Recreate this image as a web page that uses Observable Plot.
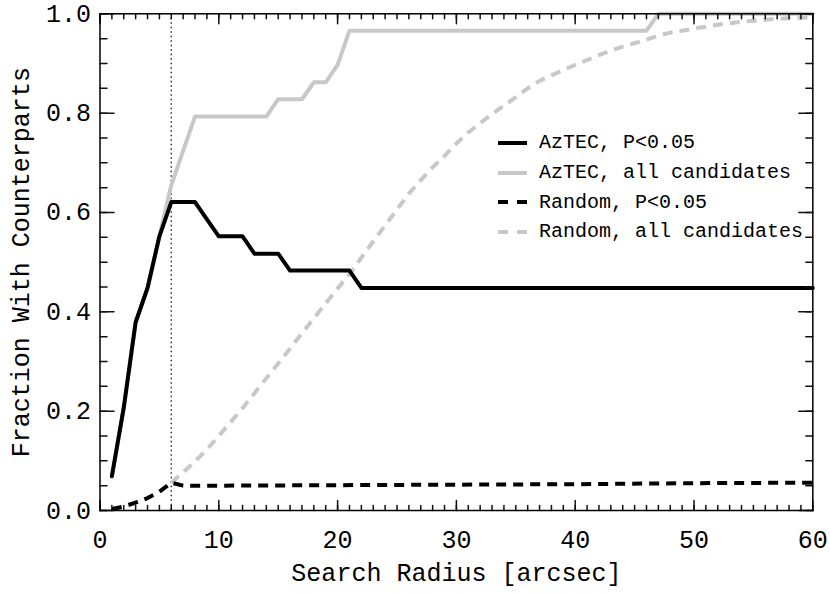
<!DOCTYPE html>
<html>
<head>
<meta charset="utf-8">
<script src="https://cdn.jsdelivr.net/npm/d3@7"></script>
<script src="https://cdn.jsdelivr.net/npm/@observablehq/plot@0.6"></script>
<style>
  html, body { margin: 0; padding: 0; background: white; }
  #wrap { position: relative; width: 830px; height: 593px; }
  #legend { position: absolute; left: 497px; top: 128px; font-family: "Liberation Mono", monospace; font-size: 20px; color: black; }
  #legend .row { display: flex; align-items: center; height: 29.7px; }
  #legend svg { margin-right: 11px; }
</style>
</head>
<body>
<div id="wrap"><div id="legend"></div></div>
<script>
// ---- data ----
const aztecSigX = [1,2,3,4,5,6,7,8,9,10,11,12,13,14,15,16,17,18,19,20,21,22,30,40,50,60];
const aztecSigY = [0.069,0.207,0.379,0.448,0.552,0.621,0.621,0.621,0.586,0.552,0.552,0.552,0.517,0.517,0.517,0.483,0.483,0.483,0.483,0.483,0.483,0.448,0.448,0.448,0.448,0.448];

const aztecAllX = [1,2,3,4,5,6,7,8,9,10,11,12,13,14,15,16,17,18,19,20,21,30,40,46,47,50,60];
const aztecAllY = [0.069,0.207,0.379,0.448,0.552,0.655,0.724,0.793,0.793,0.793,0.793,0.793,0.793,0.793,0.828,0.828,0.828,0.862,0.862,0.897,0.966,0.966,0.966,0.966,1.0,1.0,1.0];

const randSigX = [1,2,3,4,5,6,7,10,20,30,40,50,60];
const randSigY = [0.003,0.008,0.016,0.025,0.038,0.056,0.050,0.050,0.051,0.052,0.053,0.055,0.056];

const randAllX = [6,7,8,9,10,11,12,13,14,15,16,17,18,19,20,21,22,23,24,25,26,27,28,29,30,31,32,33,34,35,36,37,38,39,40,41,42,43,44,45,46,47,48,49,50,51,52,53,54,55,56,57,58,59,60];
const randAllY = [0.056,0.077,0.099,0.123,0.150,0.178,0.206,0.236,0.266,0.296,0.326,0.357,0.387,0.417,0.447,0.476,0.509,0.542,0.574,0.606,0.638,0.665,0.691,0.714,0.739,0.761,0.780,0.798,0.815,0.832,0.850,0.865,0.876,0.887,0.897,0.907,0.917,0.926,0.934,0.941,0.948,0.956,0.962,0.966,0.970,0.974,0.978,0.981,0.984,0.986,0.988,0.990,0.991,0.992,0.993];

const cutRadius = [6];
const xTicks = [0,10,20,30,40,50,60];
const yTicks = [0,0.2,0.4,0.6,0.8,1.0];
const seriesNames = ["AzTEC, P<0.05","AzTEC, all candidates","Random, P<0.05","Random, all candidates"];

// ---- layout ----
const width = 830, height = 593;
const mL = 99.5, mR = 17.7, mT = 13.3, mB = 83;
const xMax = 60, yMax = 1;
const xMinor = d3.range(0, 61, 1);
const yMinor = d3.range(0, 21, 1).map(i => i * 0.05);
const gray = "#c8c8c8";
const lw = 4;
const dash = "10,7";
const tickColor = "#111111";

const pts = (xs, ys) => xs.map((x, i) => ({x, y: ys[i]}));

// inward ticks drawn as vectors with a plain-line shape (length in pixels)
const tickShape = {draw(context, l) { context.moveTo(0, 0); context.lineTo(0, -l); }};
const vtick = (ticks, axis, at, rot, len) => Plot.vector(ticks, {
  x: axis === "x" ? (d => d) : () => at,
  y: axis === "x" ? () => at : (d => d),
  length: len, rotate: rot, anchor: "start", shape: tickShape,
  stroke: tickColor, strokeWidth: 1.5
});

const chart = Plot.plot({
  width, height,
  marginLeft: mL, marginRight: mR, marginTop: mT, marginBottom: mB,
  style: {fontFamily: "Liberation Mono, monospace", fontSize: "25px", background: "white", color: "black"},
  x: {domain: [0, xMax]},
  y: {domain: [0, yMax]},
  marks: [
    Plot.ruleX(cutRadius, {stroke: "#333", strokeWidth: 1.5, strokeDasharray: "1.5,3"}),
    Plot.line(pts(randAllX, randAllY), {x: "x", y: "y", stroke: gray, strokeWidth: lw, strokeDasharray: dash, strokeLinecap: "butt"}),
    Plot.line(pts(randSigX, randSigY), {x: "x", y: "y", stroke: "black", strokeWidth: lw, strokeDasharray: dash, strokeLinecap: "butt"}),
    Plot.line(pts(aztecAllX, aztecAllY), {x: "x", y: "y", stroke: gray, strokeWidth: lw}),
    Plot.line(pts(aztecSigX, aztecSigY), {x: "x", y: "y", stroke: "black", strokeWidth: lw}),
    // ticks on all four sides, pointing inward
    vtick(xMinor, "x", 0, 0, 5),
    vtick(xMinor, "x", yMax, 180, 5),
    vtick(xTicks, "x", 0, 0, 10),
    vtick(xTicks, "x", yMax, 180, 10),
    vtick(yMinor, "y", 0, 90, 7),
    vtick(yMinor, "y", xMax, -90, 7),
    vtick(yTicks, "y", 0, 90, 14),
    vtick(yTicks, "y", xMax, -90, 14),
    Plot.axisX({ticks: xTicks, tickSize: 0, tickPadding: 20, tickFormat: d3.format("d"), fontSize: 25,
      label: "Search Radius [arcsec]", labelAnchor: "center", labelOffset: 70, labelArrow: "none"}),
    Plot.axisY({ticks: yTicks, tickSize: 0, tickPadding: 9, tickFormat: d3.format(".1f"), fontSize: 25,
      label: "Fraction With Counterparts", labelAnchor: "center", labelOffset: 89, labelArrow: "none"}),
    Plot.frame({stroke: "black", strokeWidth: 1.5})
  ]
});
document.getElementById("wrap").prepend(chart);

// legend
const styles = [
  {stroke: "black", dash: null},
  {stroke: gray, dash: null},
  {stroke: "black", dash: "10,9"},
  {stroke: gray, dash: "10,9"}
];
const legend = document.getElementById("legend");
seriesNames.forEach((name, i) => {
  const row = document.createElement("div");
  row.className = "row";
  const st = styles[i];
  row.innerHTML = `<svg width="31" height="8"><line x1="1" x2="30" y1="4" y2="4" stroke="${st.stroke}" stroke-width="4" ${st.dash ? `stroke-dasharray="${st.dash}"` : ""}/></svg><span>${name.replace("<", "&lt;")}</span>`;
  legend.appendChild(row);
});
</script>
</body>
</html>
